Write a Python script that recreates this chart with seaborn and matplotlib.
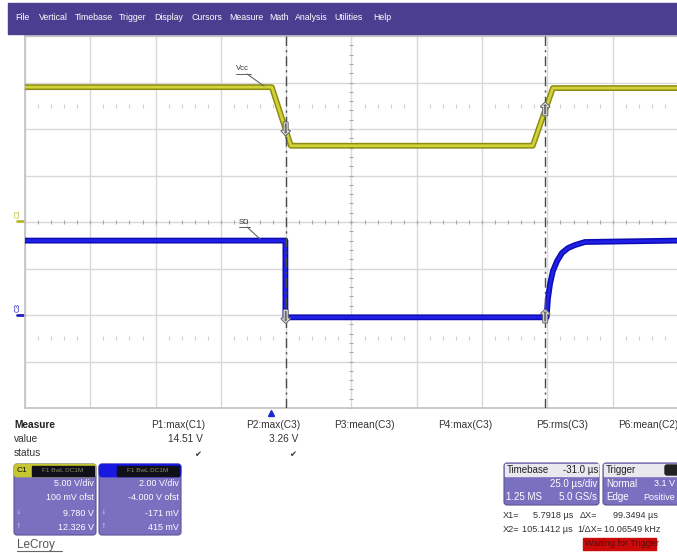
import numpy as np
import pandas as pd
import matplotlib

matplotlib.use("Agg")

import matplotlib.pyplot as plt
import matplotlib.transforms as mtransforms
import matplotlib.patheffects as pe
from matplotlib.patches import Rectangle, FancyBboxPatch
import seaborn as sns

# ---- scope data (time in us, volts) ----
c1_time = [-94.0, 0.5, 7.8, 100.4, 108.1, 156.0]
c1_volts = [14.4, 14.4, 8.1, 8.1, 14.3, 14.3]

c3_time = [-94.0, 5.7, 5.7, 105.7, 106.2, 107.0, 108.1, 109.7, 111.6, 113.9, 116.6, 120.4, 156.0]
c3_volts = [3.2, 3.2, -0.1, -0.1, 0.69, 1.33, 1.89, 2.32, 2.67, 2.88, 3.01, 3.14, 3.2]

c1_vdiv, c1_ofst = 5.0, 0.1
c3_vdiv, c3_ofst = 2.0, -4.0
tdiv = 25.0
t_center = 31.0
trigger_time = 0.0
cursor_times = [5.7918, 105.1412]

menu_items = ["File", "Vertical", "Timebase", "Trigger", "Display", "Cursors",
              "Measure", "Math", "Analysis", "Utilities", "Help"]
measure_names = ["P1:max(C1)", "P2:max(C3)", "P3:mean(C3)", "P4:max(C3)", "P5:rms(C3)", "P6:mean(C2)"]
measure_values = ["14.51 V", "3.26 V", "", "", "", ""]
measure_status = [True, True, False, False, False, False]

c1_box = ["5.00 V/div", "100 mV ofst", "9.780 V", "12.326 V"]
c3_box = ["2.00 V/div", "-4.000 V ofst", "-171 mV", "415 mV"]

# ---- layout (pixels) ----
W, H = 677, 553
gx0, gx1, gy0, gy1 = 25, 678, 36, 408
menu_x = [15, 39, 75, 119, 154, 191, 229, 269, 295, 334, 373]
meas_right = [205, 300, 395, 492, 588, None]

sns.set_theme(style="white")
plt.rcParams['font.family'] = ['Liberation Sans', 'DejaVu Sans']

fig = plt.figure(figsize=(W / 100, H / 100), dpi=100)
fig.patch.set_facecolor("white")

ax = fig.add_axes([gx0 / W, 1 - gy1 / H, (gx1 - gx0) / W, (gy1 - gy0) / H], zorder=1)
t_left = t_center - 5 * tdiv
ax.set_xlim(t_left, t_left + 10 * tdiv)
ax.set_ylim(-4, 4)
ax.set_xticks(np.arange(t_left, t_left + 10 * tdiv + 1, tdiv))
ax.set_yticks(np.arange(-4, 5))
ax.grid(True, color="#d8d8d8", lw=1)
ax.tick_params(length=0, labelbottom=False, labelleft=False)
for s in ax.spines.values():
    s.set_color("#c4c4c4")

# center-line minor ticks
minor_t = t_center + np.arange(-25, 26) * tdiv / 5
minor_v = np.arange(-20, 21) / 5
ax.plot(minor_t, np.zeros_like(minor_t), ls="none", marker="|", ms=3, color="#a8a8a8", mew=0.8)
ax.plot(np.full_like(minor_v, t_center), minor_v, ls="none", marker="_", ms=3, color="#a8a8a8", mew=0.8)
faint_t = minor_t[np.arange(-25, 26) % 5 != 0]
for yy in (2.5, -2.5):
    ax.plot(faint_t, np.full_like(faint_t, yy), ls="none", marker="|", ms=2.5, color="#cfcfcf", mew=0.8)

# traces
df1 = pd.DataFrame({"t": c1_time, "div": (np.array(c1_volts) + c1_ofst) / c1_vdiv})
df3 = pd.DataFrame({"t": c3_time, "div": (np.array(c3_volts) + c3_ofst) / c3_vdiv})
sns.lineplot(data=df1, x="t", y="div", ax=ax, estimator=None, sort=False, color="#8c8c12", lw=4.2, zorder=4)
sns.lineplot(data=df1, x="t", y="div", ax=ax, estimator=None, sort=False, color="#d2d23a", lw=2.0, zorder=5)
sns.lineplot(data=df3, x="t", y="div", ax=ax, estimator=None, sort=False, color="#0c0cb4", lw=4.2, zorder=4)
sns.lineplot(data=df3, x="t", y="div", ax=ax, estimator=None, sort=False, color="#2020e8", lw=2.0, zorder=5)
ax.set_xlabel("")
ax.set_ylabel("")

# cursors
for k, ct in enumerate(cursor_times):
    ax.axvline(ct, color="#4a4a4a", lw=1, ls=(0, (7, 3, 1.5, 3)), zorder=6)
    sym = "\u21e9" if k == 0 else "\u21e7"
    for df in (df1, df3):
        yv = np.interp(ct, df["t"], df["div"])
        ax.text(ct, yv, sym, ha="center", va="center", fontsize=12, color="#f4f4f4",
                family="DejaVu Sans", zorder=7,
                path_effects=[pe.withStroke(linewidth=1.6, foreground="#6e6e6e")])

# trigger marker and channel ground markers
bl = mtransforms.blended_transform_factory(ax.transData, ax.transAxes)
ax.plot([trigger_time], [-0.014], marker="^", ms=5, color="#1a2acc", transform=bl, clip_on=False)
bl2 = mtransforms.blended_transform_factory(ax.transAxes, ax.transData)
for lvl, col, name in ((c1_ofst / c1_vdiv, "#b8b822", "C1"), (c3_ofst / c3_vdiv, "#2020c0", "C3")):
    ax.plot([-0.013, -0.001], [lvl, lvl], color=col, lw=2, transform=bl2, clip_on=False)
    ax.text(-0.01, lvl + 0.17, name, rotation=90, fontsize=5, color=col, ha="center", va="center",
            transform=bl2)

# ---- overlay in pixel coordinates ----
ov = fig.add_axes([0, 0, 1, 1], zorder=3)
ov.set_xlim(0, W)
ov.set_ylim(H, 0)
ov.axis("off")
ov.patch.set_alpha(0)

# menu bar
ov.add_patch(Rectangle((8, 3), W - 8, 31, color="#4b3d8f"))
for name, x in zip(menu_items, menu_x):
    ov.text(x, 18, name, color="white", fontsize=6.3, ha="left", va="center")

# trace labels
ov.text(236, 69, "Vcc", fontsize=5.5, color="#333333", ha="left", va="center")
ov.plot([236, 251], [73.5, 73.5], color="#444444", lw=0.6)
ov.plot([247, 264], [74, 86], color="#666666", lw=0.8)
ov.text(239, 222, "SD", fontsize=5.5, color="#333333", ha="left", va="center")
ov.plot([239, 250], [226.5, 226.5], color="#444444", lw=0.6)
ov.plot([247, 260], [227, 239], color="#666666", lw=0.8)

# measure table
ov.text(14, 425, "Measure", fontsize=7.3, fontweight="bold", color="#222222", ha="left", va="center")
ov.text(14, 439, "value", fontsize=7.3, color="#333333", ha="left", va="center")
ov.text(14, 453, "status", fontsize=7.3, color="#333333", ha="left", va="center")
for name, val, ok, xr in zip(measure_names, measure_values, measure_status, meas_right):
    if xr is None:
        ov.text(618, 425, name, fontsize=7.3, color="#333333", ha="left", va="center")
        continue
    ov.text(xr, 425, name, fontsize=7.3, color="#333333", ha="right", va="center")
    if val:
        ov.text(xr - 2, 439, val, fontsize=7.3, color="#333333", ha="right", va="center")
    if ok:
        ov.text(xr - 7, 455, "\u2714", fontsize=6, color="#333333", ha="center", va="center",
                family="DejaVu Sans")

purple = "#7a70c0"


def channel_box(x0, head_col, label, lines):
    ov.add_patch(FancyBboxPatch((x0, 464), 82, 71, boxstyle="round,pad=0,rounding_size=3",
                                fc=purple, ec="#5c5296", lw=0.8))
    ov.add_patch(FancyBboxPatch((x0, 464), 82, 13, boxstyle="round,pad=0,rounding_size=3",
                                fc=head_col, ec=head_col, lw=0.5))
    ov.add_patch(Rectangle((x0 + 18, 466), 62, 10, color="#101018"))
    ov.text(x0 + 3, 470.5, label, fontsize=6, color="#111111", ha="left", va="center")
    ov.text(x0 + 49, 471, "F1 BwL DC1M", fontsize=4.6, color="#8a8a6a", ha="center", va="center")
    ys = [483, 497, 513, 527]
    for txt, yy in zip(lines, ys):
        ov.text(x0 + 80, yy, txt, fontsize=6.4, color="white", ha="right", va="center")
    ov.text(x0 + 3, 513, "\u2193", fontsize=5.5, color="white", ha="left", va="center")
    ov.text(x0 + 3, 527, "\u2191", fontsize=5.5, color="white", ha="left", va="center")


channel_box(14, "#c6c630", "C1", c1_box)
channel_box(99, "#1818e0", "", c3_box)

ov.text(17, 545, "LeCroy", fontsize=8.5, color="#555555", ha="left", va="center")
ov.plot([17, 62], [551, 551], color="#666666", lw=0.8)

# timebase / trigger boxes
ov.add_patch(FancyBboxPatch((504, 463), 95, 42, boxstyle="round,pad=0,rounding_size=3",
                            fc=purple, ec="#5c5296", lw=0.8))
ov.add_patch(Rectangle((505, 464), 93, 12, color="#e8e8ee"))
ov.text(507, 470, "Timebase", fontsize=7, color="#222222", ha="left", va="center")
ov.text(598, 470, "-31.0 \u00b5s", fontsize=7, color="#222222", ha="right", va="center")
ov.text(597, 484, "25.0 \u00b5s/div", fontsize=7, color="white", ha="right", va="center")
ov.text(506, 497, "1.25 MS", fontsize=7, color="white", ha="left", va="center")
ov.text(597, 497, "5.0 GS/s", fontsize=7, color="white", ha="right", va="center")

ov.add_patch(FancyBboxPatch((603, 463), 80, 42, boxstyle="round,pad=0,rounding_size=3",
                            fc=purple, ec="#5c5296", lw=0.8))
ov.add_patch(Rectangle((604, 464), 78, 12, color="#e8e8ee"))
ov.text(606, 470, "Trigger", fontsize=7, color="#222222", ha="left", va="center")
ov.add_patch(FancyBboxPatch((665, 465), 14, 10, boxstyle="round,pad=0,rounding_size=2",
                            fc="#222222", ec="#222222"))
ov.text(606, 484, "Normal", fontsize=7, color="white", ha="left", va="center")
ov.text(675, 484, "3.1 V", fontsize=6.5, color="white", ha="right", va="center")
ov.text(606, 497, "Edge", fontsize=7, color="white", ha="left", va="center")
ov.text(675, 497, "Positive", fontsize=6.5, color="white", ha="right", va="center")

# cursor readouts
ro = 6.6
ov.text(503, 516, "X1=", fontsize=ro, color="#333333", ha="left", va="center")
ov.text(573, 516, "5.7918 \u00b5s", fontsize=ro, color="#333333", ha="right", va="center")
ov.text(580, 516, "\u0394X=", fontsize=ro, color="#333333", ha="left", va="center")
ov.text(613, 516, "99.3494 \u00b5s", fontsize=ro, color="#333333", ha="left", va="center")
ov.text(503, 529, "X2=", fontsize=ro, color="#333333", ha="left", va="center")
ov.text(573, 529, "105.1412 \u00b5s", fontsize=ro, color="#333333", ha="right", va="center")
ov.text(577, 529, "1/\u0394X=", fontsize=ro, color="#333333", ha="left", va="center")
ov.text(604, 529, "10.06549 kHz", fontsize=ro, color="#333333", ha="left", va="center")

ov.add_patch(Rectangle((583, 538), 73, 12, color="#cc0a0a"))
ov.text(585, 544, "Waiting for Trigger", fontsize=6.5, color="#5a0a0a", ha="left", va="center")

fig.savefig("out.png", dpi=100, facecolor="white")
